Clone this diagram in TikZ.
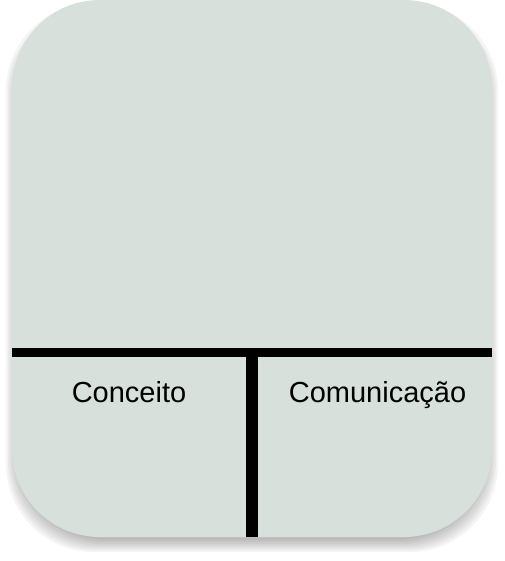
\documentclass[tikz,border=0pt]{standalone}
\usepackage{fontspec}
\setmainfont{Liberation Sans}
\definecolor{cardfill}{RGB}{215,224,219}
\tikzset{
  card/.style={fill=cardfill, rounded corners=88pt},
  divider/.style={draw=black, line cap=butt},
  label/.style={font=\fontsize{29}{32}\selectfont, text=black, anchor=base, inner sep=0pt}
}
\begin{document}
\begin{tikzpicture}[x=1pt,y=-1pt]
\useasboundingbox (0,0) rectangle (504,561);
% soft shadow
\foreach \s in {-6,-4,...,6}{
  \fill[black, opacity=0.045, rounded corners=88pt] (12+\s,9+\s) rectangle (492-\s,546-\s);
}
\fill[card] (12,0) rectangle (492,537);
\coordinate (hl) at (12,352.5);
\coordinate (hr) at (492,352.5);
\coordinate (vt) at (252,352.5);
\coordinate (vb) at (252,537);
\draw[divider, line width=9pt] (hl) -- (hr);
\draw[divider, line width=12pt] (vt) -- (vb);
\node[label] (conceito) at (129,402.5) {Conceito};
\node[label] (comunicacao) at (377.5,402.5) {Comunicação};
\end{tikzpicture}
\end{document}
